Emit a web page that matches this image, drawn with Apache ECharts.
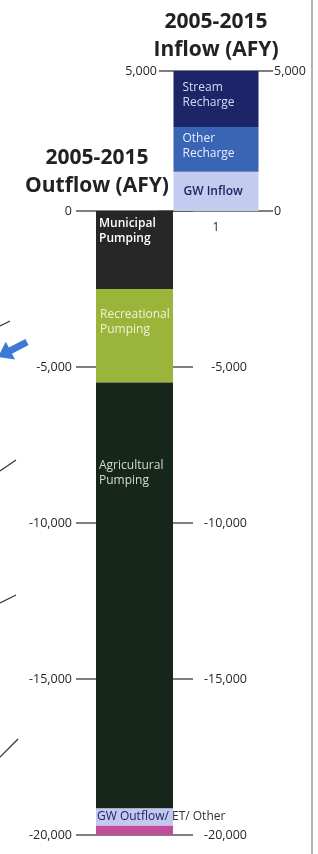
<!DOCTYPE html>
<html><head><meta charset="utf-8">
<script src="https://cdn.jsdelivr.net/npm/echarts@6/dist/echarts.min.js"></script>
<style>html,body{margin:0;padding:0;background:#fff}#c{width:318px;height:854px}</style>
</head><body><div id="c"></div>
<script>
// ---- data ----
const inflowCategory = ['1'];
const inflowNames = ['GW Inflow', 'Other Recharge', 'Stream Recharge'];
const inflowLabels = ['GW Inflow', 'Other\nRecharge', 'Stream\nRecharge'];
const inflowValues = [1400, 1600, 2000];
const outflowNames = ['Municipal Pumping', 'Recreational Pumping', 'Agricultural Pumping', 'GW Outflow', 'ET/ Other'];
const outflowLabels = ['Municipal\nPumping', 'Recreational\nPumping', 'Agricultural\nPumping', '{a|GW Outflow/}{b| ET/ Other}', ''];
const outflowValues = [-2500, -3000, -13650, -550, -300];
const inflowTicks = [0, 5000];
const outflowTicks = [0, -5000, -10000, -15000, -20000];
const titles = ['2005-2015\nInflow (AFY)', '2005-2015\nOutflow (AFY)'];

// ---- styles ----
const inflowColors = ['#c3cbee', '#3a64b4', '#1b2567'];
const inflowTextColors = ['#1b2567', '#e6ecff', '#d2dcf6'];
const inflowOffsets = [[10, 12], [9, 4], [9, 9]];
const outflowColors = ['#272727', '#9bb43a', '#17261a', '#c4c8ee', '#c04c9c'];
const outflowTextColors = ['#ffffff', '#eef3d6', '#d4dccd', '#1b2567', '#333'];
const outflowOffsets = [[3, 5], [4, 18], [3, 75], [1, 1], [0, 0]];
const FONT = 'Open Sans';
const lineCol = '#555';
const fmt = v => v.toLocaleString('en-US');

const chart = echarts.init(document.getElementById('c'), null, {renderer: 'canvas'});

const series = [];
inflowValues.forEach((v, i) => {
  series.push({
    type: 'bar', name: inflowNames[i], stack: 'in', xAxisIndex: 0, yAxisIndex: 0,
    barWidth: 85, data: [v], itemStyle: {color: inflowColors[i]},
    label: {show: true, position: 'insideTopLeft', distance: 0, offset: inflowOffsets[i],
      formatter: inflowLabels[i], color: inflowTextColors[i], fontFamily: FONT,
      fontSize: 12, lineHeight: 15, fontWeight: i === 0 ? 600 : 500, align: 'left', verticalAlign: 'top'}
  });
});
outflowValues.forEach((v, i) => {
  series.push({
    type: 'bar', name: outflowNames[i], stack: 'out', xAxisIndex: 1, yAxisIndex: 2,
    barWidth: 77, data: [v], itemStyle: {color: outflowColors[i]},
    label: {show: outflowLabels[i] !== '', position: 'insideTopLeft', distance: 0, offset: outflowOffsets[i],
      formatter: outflowLabels[i], color: outflowTextColors[i], fontFamily: FONT,
      fontSize: 12, lineHeight: 15, fontWeight: i === 0 ? 600 : 500, align: 'left', verticalAlign: 'top',
      rich: {a: {color: '#1b2567', fontFamily: FONT, fontSize: 12, fontWeight: 500}, b: {color: '#333', fontFamily: FONT, fontSize: 12}}}
  });
});

const numLabel = {fontFamily: FONT, fontSize: 12.5, color: '#262626'};

chart.setOption({
  animation: false,
  backgroundColor: '#fff',
  title: [
    {text: titles[0], left: 216, top: 8, textAlign: 'center', padding: 0,
      textStyle: {fontFamily: FONT, fontWeight: 'bold', fontSize: 21, lineHeight: 28, color: '#222'}},
    {text: titles[1], left: 97, top: 144, textAlign: 'center', padding: 0,
      textStyle: {fontFamily: FONT, fontWeight: 'bold', fontSize: 21, lineHeight: 28, color: '#222'}}
  ],
  grid: [
    {left: 159, top: 71, width: 114, height: 140},
    {left: 76, top: 211, width: 117, height: 624}
  ],
  xAxis: [
    {type: 'category', gridIndex: 0, data: inflowCategory, axisLine: {show: false}, axisTick: {show: false},
      axisLabel: {...numLabel, margin: 11, fontSize: 12}},
    {type: 'category', gridIndex: 1, data: inflowCategory, show: false}
  ],
  yAxis: [
    {type: 'value', gridIndex: 0, position: 'left', min: inflowTicks[0], max: inflowTicks[inflowTicks.length - 1],
      interval: 5000, axisLine: {show: false}, axisTick: {show: false},
      splitLine: {show: true, lineStyle: {color: lineCol, width: 1.5}},
      axisLabel: {...numLabel, margin: 2, formatter: v => v === 0 ? '' : fmt(v)}},
    {type: 'value', gridIndex: 0, position: 'right', min: inflowTicks[0], max: inflowTicks[inflowTicks.length - 1],
      interval: 5000, axisLine: {show: false}, axisTick: {show: false}, splitLine: {show: false},
      axisLabel: {...numLabel, margin: 1, formatter: v => fmt(v)}},
    {type: 'value', gridIndex: 1, position: 'left', min: outflowTicks[outflowTicks.length - 1], max: outflowTicks[0],
      interval: 5000, axisLine: {show: false}, axisTick: {show: false},
      splitLine: {show: true, lineStyle: {color: lineCol, width: 1.5}},
      axisLabel: {...numLabel, margin: 4, formatter: v => fmt(v)}},
    {type: 'value', gridIndex: 1, position: 'right', min: outflowTicks[outflowTicks.length - 1], max: outflowTicks[0],
      interval: 5000, axisLine: {show: false}, axisTick: {show: false}, splitLine: {show: false},
      axisLabel: {...numLabel, margin: 54, align: 'right', formatter: v => v === 0 ? '' : fmt(v)}}
  ],
  series: series,
  graphic: [
    {type: 'line', shape: {x1: 312, y1: 0, x2: 312, y2: 854}, style: {stroke: '#9a9a9a', lineWidth: 1.5}, silent: true},
    {type: 'line', shape: {x1: 0, y1: 326, x2: 10, y2: 321}, style: {stroke: '#333', lineWidth: 1.2}, silent: true},
    {type: 'line', shape: {x1: 0, y1: 471, x2: 16, y2: 460}, style: {stroke: '#333', lineWidth: 1.2}, silent: true},
    {type: 'line', shape: {x1: 0, y1: 603, x2: 16, y2: 595}, style: {stroke: '#333', lineWidth: 1.2}, silent: true},
    {type: 'line', shape: {x1: 0, y1: 757, x2: 18, y2: 739}, style: {stroke: '#333', lineWidth: 1.2}, silent: true},
    {type: 'polygon', shape: {points: [[25.4, 338.9], [28.6, 345.1], [12, 353.7], [15, 359.5], [-2, 357], [5.8, 341.7], [8.8, 347.5]]},
      style: {fill: '#3d7ad6'}, silent: true}
  ]
});
</script>
</body></html>
